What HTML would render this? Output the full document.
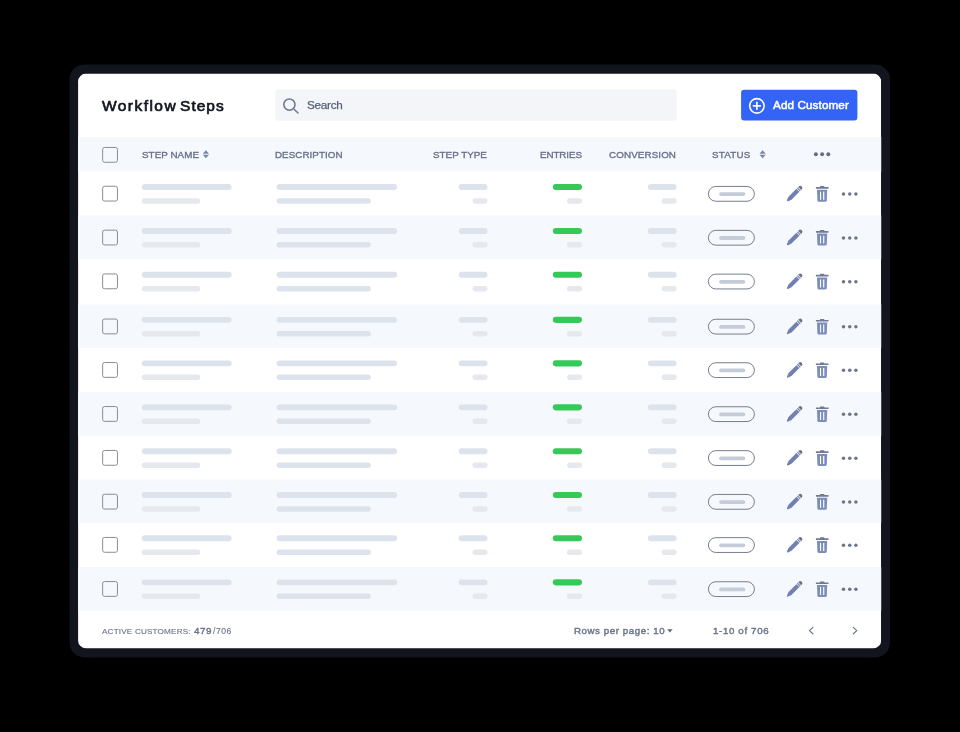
<!DOCTYPE html>
<html lang="en"><head><meta charset="utf-8"><title>Workflow Steps</title>
<style>
*{box-sizing:border-box;margin:0;padding:0}
html,body{width:960px;height:732px;background:#000;overflow:hidden}
body{position:relative;font-family:"Liberation Sans",Arial,sans-serif;color:#5f6b84}
.t{position:absolute;transform:scale(.25);transform-origin:0 0;white-space:nowrap;line-height:1}
svg.bg{position:absolute;left:0;top:0;width:960px;height:732px}
</style></head><body>
<svg class="bg" width="960" height="732" viewBox="0 0 960 732">
<defs><clipPath id="cc"><rect x="78.1" y="73.6" width="803.1" height="574.8" rx="8"/></clipPath></defs>
<rect x="69.5" y="64.40" width="820.5" height="593.1" rx="15" fill="#12151e"/>
<g clip-path="url(#cc)">
<rect x="78" y="73.50" width="803.2" height="575" fill="#fff"/>
<rect x="275.3" y="89.50" width="401.5" height="31.2" rx="3" fill="#f3f5f9"/>
<g transform="translate(282.3 97.5)" fill="none" stroke="#6e7990" stroke-width="1.55" stroke-linecap="round"><circle cx="7.1" cy="7.1" r="5.6"/><path d="M11.3 11.3L15.7 15.5"/></g>
<rect x="741.1" y="89.80" width="116.3" height="30.8" rx="3" fill="#3464f5"/>
<g transform="translate(756.9 105.85)" fill="none" stroke="#fff" stroke-width="1.6" stroke-linecap="round"><circle cx="0" cy="0" r="7.25"/><path d="M0 -3.5V3.5M-3.5 0H3.5"/></g>
<rect x="78" y="137.10" width="804" height="34.5" fill="#f5f8fc"/>
<rect x="102.65" y="147.45" width="14.8" height="14.8" rx="1.9" fill="none" stroke="#888c96" stroke-width="1"/>
<g transform="translate(202.8 150.35)" fill="#7886a6"><path d="M3.1 0L6.2 3.5H0Z"/><path d="M3.1 8L6.2 4.5H0Z"/></g>
<g transform="translate(759.5 150.35)" fill="#7886a6"><path d="M3.1 0L6.2 3.5H0Z"/><path d="M3.1 8L6.2 4.5H0Z"/></g>
<g transform="translate(813.9 152.2)" fill="#626c83"><circle cx="2" cy="2" r="1.95"/><circle cx="8.25" cy="2" r="1.95"/><circle cx="14.4" cy="2" r="1.95"/></g>
<rect x="102.65" y="186.25" width="14.8" height="14.8" rx="1.9" fill="none" stroke="#888c96" stroke-width="1"/>
<rect x="141.8" y="184.10" width="89.8" height="5.9" rx="2.95" fill="#dde3ec"/>
<rect x="141.8" y="198.20" width="58.5" height="5.5" rx="2.75" fill="#e5e8ed"/>
<rect x="276.6" y="184.10" width="120.6" height="5.9" rx="2.95" fill="#dde3ec"/>
<rect x="276.6" y="198.20" width="94.2" height="5.5" rx="2.75" fill="#dde3ec"/>
<rect x="458.7" y="184.10" width="28.8" height="5.9" rx="2.95" fill="#dde3ec"/>
<rect x="472.5" y="198.20" width="15" height="5.5" rx="2.75" fill="#e5e8ed"/>
<rect x="552.8" y="184.00" width="29.2" height="6.1" rx="3.05" fill="#36c95a"/>
<rect x="567" y="198.20" width="15" height="5.5" rx="2.75" fill="#e5e8ed"/>
<rect x="647.9" y="184.10" width="28.7" height="5.9" rx="2.95" fill="#dde3ec"/>
<rect x="661.6" y="198.20" width="15" height="5.5" rx="2.75" fill="#e5e8ed"/>
<rect x="708.4" y="186.45" width="46" height="14.8" rx="7.4" fill="none" stroke="#777e8f" stroke-width="1"/>
<rect x="719.1" y="192.20" width="26.2" height="3.8" rx="1.9" fill="#c4ccd9"/>
<g transform="translate(786.9 201.30) rotate(-45)"><path d="M0.3 0Q0.3 -0.55 0.9 -0.8L4.4 -2.1H15.5V2.1H4.4L0.9 0.8Q0.3 0.55 0.3 0Z" fill="#7081b1"/><rect x="16.2" y="-2.1" width="1.2" height="4.2" fill="#7081b1"/><path d="M18.1 -2.1H18.9A2.1 2.1 0 0 1 18.9 2.1H18.1Z" fill="#6a7286"/></g>
<g transform="translate(815.8 186.10)"><path d="M0.1 1H4.2V0.6Q4.2 0 4.8 0H8Q8.6 0 8.6 0.6V1H12.7V2.7H0.1Z" fill="#707a94"/><path d="M1.2 3.6H11.4L11 14.3Q10.9 15.6 9.6 15.6H3Q1.7 15.6 1.6 14.3ZM4.2 5.7V13.6H5.3V5.7ZM7.3 5.7V13.6H8.5V5.7Z" fill="#7c8dbb" fill-rule="evenodd"/></g>
<g transform="translate(841.5 192.00)" fill="#6c758b"><circle cx="2" cy="2" r="1.75"/><circle cx="8.25" cy="2" r="1.75"/><circle cx="14.4" cy="2" r="1.75"/></g>
<rect x="78" y="215.50" width="804" height="43.8" fill="#f5f8fc"/>
<rect x="102.65" y="230.15" width="14.8" height="14.8" rx="1.9" fill="none" stroke="#888c96" stroke-width="1"/>
<rect x="141.8" y="228.00" width="89.8" height="5.9" rx="2.95" fill="#dde3ec"/>
<rect x="141.8" y="242.10" width="58.5" height="5.5" rx="2.75" fill="#e5e8ed"/>
<rect x="276.6" y="228.00" width="120.6" height="5.9" rx="2.95" fill="#dde3ec"/>
<rect x="276.6" y="242.10" width="94.2" height="5.5" rx="2.75" fill="#dde3ec"/>
<rect x="458.7" y="228.00" width="28.8" height="5.9" rx="2.95" fill="#dde3ec"/>
<rect x="472.5" y="242.10" width="15" height="5.5" rx="2.75" fill="#e5e8ed"/>
<rect x="552.8" y="227.90" width="29.2" height="6.1" rx="3.05" fill="#36c95a"/>
<rect x="567" y="242.10" width="15" height="5.5" rx="2.75" fill="#e5e8ed"/>
<rect x="647.9" y="228.00" width="28.7" height="5.9" rx="2.95" fill="#dde3ec"/>
<rect x="661.6" y="242.10" width="15" height="5.5" rx="2.75" fill="#e5e8ed"/>
<rect x="708.4" y="230.35" width="46" height="14.8" rx="7.4" fill="none" stroke="#777e8f" stroke-width="1"/>
<rect x="719.1" y="236.10" width="26.2" height="3.8" rx="1.9" fill="#c4ccd9"/>
<g transform="translate(786.9 245.20) rotate(-45)"><path d="M0.3 0Q0.3 -0.55 0.9 -0.8L4.4 -2.1H15.5V2.1H4.4L0.9 0.8Q0.3 0.55 0.3 0Z" fill="#7081b1"/><rect x="16.2" y="-2.1" width="1.2" height="4.2" fill="#7081b1"/><path d="M18.1 -2.1H18.9A2.1 2.1 0 0 1 18.9 2.1H18.1Z" fill="#6a7286"/></g>
<g transform="translate(815.8 230.00)"><path d="M0.1 1H4.2V0.6Q4.2 0 4.8 0H8Q8.6 0 8.6 0.6V1H12.7V2.7H0.1Z" fill="#707a94"/><path d="M1.2 3.6H11.4L11 14.3Q10.9 15.6 9.6 15.6H3Q1.7 15.6 1.6 14.3ZM4.2 5.7V13.6H5.3V5.7ZM7.3 5.7V13.6H8.5V5.7Z" fill="#7c8dbb" fill-rule="evenodd"/></g>
<g transform="translate(841.5 235.90)" fill="#6c758b"><circle cx="2" cy="2" r="1.75"/><circle cx="8.25" cy="2" r="1.75"/><circle cx="14.4" cy="2" r="1.75"/></g>
<rect x="102.65" y="273.95" width="14.8" height="14.8" rx="1.9" fill="none" stroke="#888c96" stroke-width="1"/>
<rect x="141.8" y="271.80" width="89.8" height="5.9" rx="2.95" fill="#dde3ec"/>
<rect x="141.8" y="285.90" width="58.5" height="5.5" rx="2.75" fill="#e5e8ed"/>
<rect x="276.6" y="271.80" width="120.6" height="5.9" rx="2.95" fill="#dde3ec"/>
<rect x="276.6" y="285.90" width="94.2" height="5.5" rx="2.75" fill="#dde3ec"/>
<rect x="458.7" y="271.80" width="28.8" height="5.9" rx="2.95" fill="#dde3ec"/>
<rect x="472.5" y="285.90" width="15" height="5.5" rx="2.75" fill="#e5e8ed"/>
<rect x="552.8" y="271.70" width="29.2" height="6.1" rx="3.05" fill="#36c95a"/>
<rect x="567" y="285.90" width="15" height="5.5" rx="2.75" fill="#e5e8ed"/>
<rect x="647.9" y="271.80" width="28.7" height="5.9" rx="2.95" fill="#dde3ec"/>
<rect x="661.6" y="285.90" width="15" height="5.5" rx="2.75" fill="#e5e8ed"/>
<rect x="708.4" y="274.15" width="46" height="14.8" rx="7.4" fill="none" stroke="#777e8f" stroke-width="1"/>
<rect x="719.1" y="279.90" width="26.2" height="3.8" rx="1.9" fill="#c4ccd9"/>
<g transform="translate(786.9 289.00) rotate(-45)"><path d="M0.3 0Q0.3 -0.55 0.9 -0.8L4.4 -2.1H15.5V2.1H4.4L0.9 0.8Q0.3 0.55 0.3 0Z" fill="#7081b1"/><rect x="16.2" y="-2.1" width="1.2" height="4.2" fill="#7081b1"/><path d="M18.1 -2.1H18.9A2.1 2.1 0 0 1 18.9 2.1H18.1Z" fill="#6a7286"/></g>
<g transform="translate(815.8 273.80)"><path d="M0.1 1H4.2V0.6Q4.2 0 4.8 0H8Q8.6 0 8.6 0.6V1H12.7V2.7H0.1Z" fill="#707a94"/><path d="M1.2 3.6H11.4L11 14.3Q10.9 15.6 9.6 15.6H3Q1.7 15.6 1.6 14.3ZM4.2 5.7V13.6H5.3V5.7ZM7.3 5.7V13.6H8.5V5.7Z" fill="#7c8dbb" fill-rule="evenodd"/></g>
<g transform="translate(841.5 279.70)" fill="#6c758b"><circle cx="2" cy="2" r="1.75"/><circle cx="8.25" cy="2" r="1.75"/><circle cx="14.4" cy="2" r="1.75"/></g>
<rect x="78" y="304.40" width="804" height="43.5" fill="#f5f8fc"/>
<rect x="102.65" y="319.05" width="14.8" height="14.8" rx="1.9" fill="none" stroke="#888c96" stroke-width="1"/>
<rect x="141.8" y="316.90" width="89.8" height="5.9" rx="2.95" fill="#dde3ec"/>
<rect x="141.8" y="331.00" width="58.5" height="5.5" rx="2.75" fill="#e5e8ed"/>
<rect x="276.6" y="316.90" width="120.6" height="5.9" rx="2.95" fill="#dde3ec"/>
<rect x="276.6" y="331.00" width="94.2" height="5.5" rx="2.75" fill="#dde3ec"/>
<rect x="458.7" y="316.90" width="28.8" height="5.9" rx="2.95" fill="#dde3ec"/>
<rect x="472.5" y="331.00" width="15" height="5.5" rx="2.75" fill="#e5e8ed"/>
<rect x="552.8" y="316.80" width="29.2" height="6.1" rx="3.05" fill="#36c95a"/>
<rect x="567" y="331.00" width="15" height="5.5" rx="2.75" fill="#e5e8ed"/>
<rect x="647.9" y="316.90" width="28.7" height="5.9" rx="2.95" fill="#dde3ec"/>
<rect x="661.6" y="331.00" width="15" height="5.5" rx="2.75" fill="#e5e8ed"/>
<rect x="708.4" y="319.25" width="46" height="14.8" rx="7.4" fill="none" stroke="#777e8f" stroke-width="1"/>
<rect x="719.1" y="325.00" width="26.2" height="3.8" rx="1.9" fill="#c4ccd9"/>
<g transform="translate(786.9 334.10) rotate(-45)"><path d="M0.3 0Q0.3 -0.55 0.9 -0.8L4.4 -2.1H15.5V2.1H4.4L0.9 0.8Q0.3 0.55 0.3 0Z" fill="#7081b1"/><rect x="16.2" y="-2.1" width="1.2" height="4.2" fill="#7081b1"/><path d="M18.1 -2.1H18.9A2.1 2.1 0 0 1 18.9 2.1H18.1Z" fill="#6a7286"/></g>
<g transform="translate(815.8 318.90)"><path d="M0.1 1H4.2V0.6Q4.2 0 4.8 0H8Q8.6 0 8.6 0.6V1H12.7V2.7H0.1Z" fill="#707a94"/><path d="M1.2 3.6H11.4L11 14.3Q10.9 15.6 9.6 15.6H3Q1.7 15.6 1.6 14.3ZM4.2 5.7V13.6H5.3V5.7ZM7.3 5.7V13.6H8.5V5.7Z" fill="#7c8dbb" fill-rule="evenodd"/></g>
<g transform="translate(841.5 324.80)" fill="#6c758b"><circle cx="2" cy="2" r="1.75"/><circle cx="8.25" cy="2" r="1.75"/><circle cx="14.4" cy="2" r="1.75"/></g>
<rect x="102.65" y="362.55" width="14.8" height="14.8" rx="1.9" fill="none" stroke="#888c96" stroke-width="1"/>
<rect x="141.8" y="360.40" width="89.8" height="5.9" rx="2.95" fill="#dde3ec"/>
<rect x="141.8" y="374.50" width="58.5" height="5.5" rx="2.75" fill="#e5e8ed"/>
<rect x="276.6" y="360.40" width="120.6" height="5.9" rx="2.95" fill="#dde3ec"/>
<rect x="276.6" y="374.50" width="94.2" height="5.5" rx="2.75" fill="#dde3ec"/>
<rect x="458.7" y="360.40" width="28.8" height="5.9" rx="2.95" fill="#dde3ec"/>
<rect x="472.5" y="374.50" width="15" height="5.5" rx="2.75" fill="#e5e8ed"/>
<rect x="552.8" y="360.30" width="29.2" height="6.1" rx="3.05" fill="#36c95a"/>
<rect x="567" y="374.50" width="15" height="5.5" rx="2.75" fill="#e5e8ed"/>
<rect x="647.9" y="360.40" width="28.7" height="5.9" rx="2.95" fill="#dde3ec"/>
<rect x="661.6" y="374.50" width="15" height="5.5" rx="2.75" fill="#e5e8ed"/>
<rect x="708.4" y="362.75" width="46" height="14.8" rx="7.4" fill="none" stroke="#777e8f" stroke-width="1"/>
<rect x="719.1" y="368.50" width="26.2" height="3.8" rx="1.9" fill="#c4ccd9"/>
<g transform="translate(786.9 377.60) rotate(-45)"><path d="M0.3 0Q0.3 -0.55 0.9 -0.8L4.4 -2.1H15.5V2.1H4.4L0.9 0.8Q0.3 0.55 0.3 0Z" fill="#7081b1"/><rect x="16.2" y="-2.1" width="1.2" height="4.2" fill="#7081b1"/><path d="M18.1 -2.1H18.9A2.1 2.1 0 0 1 18.9 2.1H18.1Z" fill="#6a7286"/></g>
<g transform="translate(815.8 362.40)"><path d="M0.1 1H4.2V0.6Q4.2 0 4.8 0H8Q8.6 0 8.6 0.6V1H12.7V2.7H0.1Z" fill="#707a94"/><path d="M1.2 3.6H11.4L11 14.3Q10.9 15.6 9.6 15.6H3Q1.7 15.6 1.6 14.3ZM4.2 5.7V13.6H5.3V5.7ZM7.3 5.7V13.6H8.5V5.7Z" fill="#7c8dbb" fill-rule="evenodd"/></g>
<g transform="translate(841.5 368.30)" fill="#6c758b"><circle cx="2" cy="2" r="1.75"/><circle cx="8.25" cy="2" r="1.75"/><circle cx="14.4" cy="2" r="1.75"/></g>
<rect x="78" y="391.90" width="804" height="43.9" fill="#f5f8fc"/>
<rect x="102.65" y="406.55" width="14.8" height="14.8" rx="1.9" fill="none" stroke="#888c96" stroke-width="1"/>
<rect x="141.8" y="404.40" width="89.8" height="5.9" rx="2.95" fill="#dde3ec"/>
<rect x="141.8" y="418.50" width="58.5" height="5.5" rx="2.75" fill="#e5e8ed"/>
<rect x="276.6" y="404.40" width="120.6" height="5.9" rx="2.95" fill="#dde3ec"/>
<rect x="276.6" y="418.50" width="94.2" height="5.5" rx="2.75" fill="#dde3ec"/>
<rect x="458.7" y="404.40" width="28.8" height="5.9" rx="2.95" fill="#dde3ec"/>
<rect x="472.5" y="418.50" width="15" height="5.5" rx="2.75" fill="#e5e8ed"/>
<rect x="552.8" y="404.30" width="29.2" height="6.1" rx="3.05" fill="#36c95a"/>
<rect x="567" y="418.50" width="15" height="5.5" rx="2.75" fill="#e5e8ed"/>
<rect x="647.9" y="404.40" width="28.7" height="5.9" rx="2.95" fill="#dde3ec"/>
<rect x="661.6" y="418.50" width="15" height="5.5" rx="2.75" fill="#e5e8ed"/>
<rect x="708.4" y="406.75" width="46" height="14.8" rx="7.4" fill="none" stroke="#777e8f" stroke-width="1"/>
<rect x="719.1" y="412.50" width="26.2" height="3.8" rx="1.9" fill="#c4ccd9"/>
<g transform="translate(786.9 421.60) rotate(-45)"><path d="M0.3 0Q0.3 -0.55 0.9 -0.8L4.4 -2.1H15.5V2.1H4.4L0.9 0.8Q0.3 0.55 0.3 0Z" fill="#7081b1"/><rect x="16.2" y="-2.1" width="1.2" height="4.2" fill="#7081b1"/><path d="M18.1 -2.1H18.9A2.1 2.1 0 0 1 18.9 2.1H18.1Z" fill="#6a7286"/></g>
<g transform="translate(815.8 406.40)"><path d="M0.1 1H4.2V0.6Q4.2 0 4.8 0H8Q8.6 0 8.6 0.6V1H12.7V2.7H0.1Z" fill="#707a94"/><path d="M1.2 3.6H11.4L11 14.3Q10.9 15.6 9.6 15.6H3Q1.7 15.6 1.6 14.3ZM4.2 5.7V13.6H5.3V5.7ZM7.3 5.7V13.6H8.5V5.7Z" fill="#7c8dbb" fill-rule="evenodd"/></g>
<g transform="translate(841.5 412.30)" fill="#6c758b"><circle cx="2" cy="2" r="1.75"/><circle cx="8.25" cy="2" r="1.75"/><circle cx="14.4" cy="2" r="1.75"/></g>
<rect x="102.65" y="450.45" width="14.8" height="14.8" rx="1.9" fill="none" stroke="#888c96" stroke-width="1"/>
<rect x="141.8" y="448.30" width="89.8" height="5.9" rx="2.95" fill="#dde3ec"/>
<rect x="141.8" y="462.40" width="58.5" height="5.5" rx="2.75" fill="#e5e8ed"/>
<rect x="276.6" y="448.30" width="120.6" height="5.9" rx="2.95" fill="#dde3ec"/>
<rect x="276.6" y="462.40" width="94.2" height="5.5" rx="2.75" fill="#dde3ec"/>
<rect x="458.7" y="448.30" width="28.8" height="5.9" rx="2.95" fill="#dde3ec"/>
<rect x="472.5" y="462.40" width="15" height="5.5" rx="2.75" fill="#e5e8ed"/>
<rect x="552.8" y="448.20" width="29.2" height="6.1" rx="3.05" fill="#36c95a"/>
<rect x="567" y="462.40" width="15" height="5.5" rx="2.75" fill="#e5e8ed"/>
<rect x="647.9" y="448.30" width="28.7" height="5.9" rx="2.95" fill="#dde3ec"/>
<rect x="661.6" y="462.40" width="15" height="5.5" rx="2.75" fill="#e5e8ed"/>
<rect x="708.4" y="450.65" width="46" height="14.8" rx="7.4" fill="none" stroke="#777e8f" stroke-width="1"/>
<rect x="719.1" y="456.40" width="26.2" height="3.8" rx="1.9" fill="#c4ccd9"/>
<g transform="translate(786.9 465.50) rotate(-45)"><path d="M0.3 0Q0.3 -0.55 0.9 -0.8L4.4 -2.1H15.5V2.1H4.4L0.9 0.8Q0.3 0.55 0.3 0Z" fill="#7081b1"/><rect x="16.2" y="-2.1" width="1.2" height="4.2" fill="#7081b1"/><path d="M18.1 -2.1H18.9A2.1 2.1 0 0 1 18.9 2.1H18.1Z" fill="#6a7286"/></g>
<g transform="translate(815.8 450.30)"><path d="M0.1 1H4.2V0.6Q4.2 0 4.8 0H8Q8.6 0 8.6 0.6V1H12.7V2.7H0.1Z" fill="#707a94"/><path d="M1.2 3.6H11.4L11 14.3Q10.9 15.6 9.6 15.6H3Q1.7 15.6 1.6 14.3ZM4.2 5.7V13.6H5.3V5.7ZM7.3 5.7V13.6H8.5V5.7Z" fill="#7c8dbb" fill-rule="evenodd"/></g>
<g transform="translate(841.5 456.20)" fill="#6c758b"><circle cx="2" cy="2" r="1.75"/><circle cx="8.25" cy="2" r="1.75"/><circle cx="14.4" cy="2" r="1.75"/></g>
<rect x="78" y="479.60" width="804" height="43.2" fill="#f5f8fc"/>
<rect x="102.65" y="494.25" width="14.8" height="14.8" rx="1.9" fill="none" stroke="#888c96" stroke-width="1"/>
<rect x="141.8" y="492.10" width="89.8" height="5.9" rx="2.95" fill="#dde3ec"/>
<rect x="141.8" y="506.20" width="58.5" height="5.5" rx="2.75" fill="#e5e8ed"/>
<rect x="276.6" y="492.10" width="120.6" height="5.9" rx="2.95" fill="#dde3ec"/>
<rect x="276.6" y="506.20" width="94.2" height="5.5" rx="2.75" fill="#dde3ec"/>
<rect x="458.7" y="492.10" width="28.8" height="5.9" rx="2.95" fill="#dde3ec"/>
<rect x="472.5" y="506.20" width="15" height="5.5" rx="2.75" fill="#e5e8ed"/>
<rect x="552.8" y="492.00" width="29.2" height="6.1" rx="3.05" fill="#36c95a"/>
<rect x="567" y="506.20" width="15" height="5.5" rx="2.75" fill="#e5e8ed"/>
<rect x="647.9" y="492.10" width="28.7" height="5.9" rx="2.95" fill="#dde3ec"/>
<rect x="661.6" y="506.20" width="15" height="5.5" rx="2.75" fill="#e5e8ed"/>
<rect x="708.4" y="494.45" width="46" height="14.8" rx="7.4" fill="none" stroke="#777e8f" stroke-width="1"/>
<rect x="719.1" y="500.20" width="26.2" height="3.8" rx="1.9" fill="#c4ccd9"/>
<g transform="translate(786.9 509.30) rotate(-45)"><path d="M0.3 0Q0.3 -0.55 0.9 -0.8L4.4 -2.1H15.5V2.1H4.4L0.9 0.8Q0.3 0.55 0.3 0Z" fill="#7081b1"/><rect x="16.2" y="-2.1" width="1.2" height="4.2" fill="#7081b1"/><path d="M18.1 -2.1H18.9A2.1 2.1 0 0 1 18.9 2.1H18.1Z" fill="#6a7286"/></g>
<g transform="translate(815.8 494.10)"><path d="M0.1 1H4.2V0.6Q4.2 0 4.8 0H8Q8.6 0 8.6 0.6V1H12.7V2.7H0.1Z" fill="#707a94"/><path d="M1.2 3.6H11.4L11 14.3Q10.9 15.6 9.6 15.6H3Q1.7 15.6 1.6 14.3ZM4.2 5.7V13.6H5.3V5.7ZM7.3 5.7V13.6H8.5V5.7Z" fill="#7c8dbb" fill-rule="evenodd"/></g>
<g transform="translate(841.5 500.00)" fill="#6c758b"><circle cx="2" cy="2" r="1.75"/><circle cx="8.25" cy="2" r="1.75"/><circle cx="14.4" cy="2" r="1.75"/></g>
<rect x="102.65" y="537.45" width="14.8" height="14.8" rx="1.9" fill="none" stroke="#888c96" stroke-width="1"/>
<rect x="141.8" y="535.30" width="89.8" height="5.9" rx="2.95" fill="#dde3ec"/>
<rect x="141.8" y="549.40" width="58.5" height="5.5" rx="2.75" fill="#e5e8ed"/>
<rect x="276.6" y="535.30" width="120.6" height="5.9" rx="2.95" fill="#dde3ec"/>
<rect x="276.6" y="549.40" width="94.2" height="5.5" rx="2.75" fill="#dde3ec"/>
<rect x="458.7" y="535.30" width="28.8" height="5.9" rx="2.95" fill="#dde3ec"/>
<rect x="472.5" y="549.40" width="15" height="5.5" rx="2.75" fill="#e5e8ed"/>
<rect x="552.8" y="535.20" width="29.2" height="6.1" rx="3.05" fill="#36c95a"/>
<rect x="567" y="549.40" width="15" height="5.5" rx="2.75" fill="#e5e8ed"/>
<rect x="647.9" y="535.30" width="28.7" height="5.9" rx="2.95" fill="#dde3ec"/>
<rect x="661.6" y="549.40" width="15" height="5.5" rx="2.75" fill="#e5e8ed"/>
<rect x="708.4" y="537.65" width="46" height="14.8" rx="7.4" fill="none" stroke="#777e8f" stroke-width="1"/>
<rect x="719.1" y="543.40" width="26.2" height="3.8" rx="1.9" fill="#c4ccd9"/>
<g transform="translate(786.9 552.50) rotate(-45)"><path d="M0.3 0Q0.3 -0.55 0.9 -0.8L4.4 -2.1H15.5V2.1H4.4L0.9 0.8Q0.3 0.55 0.3 0Z" fill="#7081b1"/><rect x="16.2" y="-2.1" width="1.2" height="4.2" fill="#7081b1"/><path d="M18.1 -2.1H18.9A2.1 2.1 0 0 1 18.9 2.1H18.1Z" fill="#6a7286"/></g>
<g transform="translate(815.8 537.30)"><path d="M0.1 1H4.2V0.6Q4.2 0 4.8 0H8Q8.6 0 8.6 0.6V1H12.7V2.7H0.1Z" fill="#707a94"/><path d="M1.2 3.6H11.4L11 14.3Q10.9 15.6 9.6 15.6H3Q1.7 15.6 1.6 14.3ZM4.2 5.7V13.6H5.3V5.7ZM7.3 5.7V13.6H8.5V5.7Z" fill="#7c8dbb" fill-rule="evenodd"/></g>
<g transform="translate(841.5 543.20)" fill="#6c758b"><circle cx="2" cy="2" r="1.75"/><circle cx="8.25" cy="2" r="1.75"/><circle cx="14.4" cy="2" r="1.75"/></g>
<rect x="78" y="566.90" width="804" height="43.7" fill="#f5f8fc"/>
<rect x="102.65" y="581.55" width="14.8" height="14.8" rx="1.9" fill="none" stroke="#888c96" stroke-width="1"/>
<rect x="141.8" y="579.40" width="89.8" height="5.9" rx="2.95" fill="#dde3ec"/>
<rect x="141.8" y="593.50" width="58.5" height="5.5" rx="2.75" fill="#e5e8ed"/>
<rect x="276.6" y="579.40" width="120.6" height="5.9" rx="2.95" fill="#dde3ec"/>
<rect x="276.6" y="593.50" width="94.2" height="5.5" rx="2.75" fill="#dde3ec"/>
<rect x="458.7" y="579.40" width="28.8" height="5.9" rx="2.95" fill="#dde3ec"/>
<rect x="472.5" y="593.50" width="15" height="5.5" rx="2.75" fill="#e5e8ed"/>
<rect x="552.8" y="579.30" width="29.2" height="6.1" rx="3.05" fill="#36c95a"/>
<rect x="567" y="593.50" width="15" height="5.5" rx="2.75" fill="#e5e8ed"/>
<rect x="647.9" y="579.40" width="28.7" height="5.9" rx="2.95" fill="#dde3ec"/>
<rect x="661.6" y="593.50" width="15" height="5.5" rx="2.75" fill="#e5e8ed"/>
<rect x="708.4" y="581.75" width="46" height="14.8" rx="7.4" fill="none" stroke="#777e8f" stroke-width="1"/>
<rect x="719.1" y="587.50" width="26.2" height="3.8" rx="1.9" fill="#c4ccd9"/>
<g transform="translate(786.9 596.60) rotate(-45)"><path d="M0.3 0Q0.3 -0.55 0.9 -0.8L4.4 -2.1H15.5V2.1H4.4L0.9 0.8Q0.3 0.55 0.3 0Z" fill="#7081b1"/><rect x="16.2" y="-2.1" width="1.2" height="4.2" fill="#7081b1"/><path d="M18.1 -2.1H18.9A2.1 2.1 0 0 1 18.9 2.1H18.1Z" fill="#6a7286"/></g>
<g transform="translate(815.8 581.40)"><path d="M0.1 1H4.2V0.6Q4.2 0 4.8 0H8Q8.6 0 8.6 0.6V1H12.7V2.7H0.1Z" fill="#707a94"/><path d="M1.2 3.6H11.4L11 14.3Q10.9 15.6 9.6 15.6H3Q1.7 15.6 1.6 14.3ZM4.2 5.7V13.6H5.3V5.7ZM7.3 5.7V13.6H8.5V5.7Z" fill="#7c8dbb" fill-rule="evenodd"/></g>
<g transform="translate(841.5 587.30)" fill="#6c758b"><circle cx="2" cy="2" r="1.75"/><circle cx="8.25" cy="2" r="1.75"/><circle cx="14.4" cy="2" r="1.75"/></g>
<path d="M667.1 629.2H672.7L669.9 632.5Z" fill="#5f6b85"/>
<g fill="none" stroke="#6b7790" stroke-width="1.2" stroke-linecap="round" stroke-linejoin="round"><path d="M812.9 627.4L809.4 630.6L812.9 633.8"/><path d="M853.3 627.4L856.8 630.6L853.3 633.8"/></g>
</g>
</svg>
<div class="t" style="left:102.3px;top:98.48px;font-size:62px;color:#12151f;letter-spacing:4px;-webkit-text-stroke:2.8px #12151f"><span style="letter-spacing:5.8px;word-spacing:-11px">Workflow </span>Steps</div>
<div class="t" style="left:306.8px;top:99.10px;font-size:46.8px;color:#565f74;letter-spacing:-1px;-webkit-text-stroke:1px #565f74">Search</div>
<div class="t" style="left:773.0px;top:98.90px;font-size:46.8px;color:#fff;letter-spacing:0.4px;-webkit-text-stroke:2px #fff">Add Customer</div>
<div class="t" style="left:141.7px;top:149.55px;font-size:39.2px;color:#687289;letter-spacing:0.24px;-webkit-text-stroke:1.44px #687289">STEP NAME</div>
<div class="t" style="left:275.3px;top:149.55px;font-size:39.2px;color:#687289;letter-spacing:0.2px;-webkit-text-stroke:1.44px #687289">DESCRIPTION</div>
<div class="t" style="left:432.9px;top:149.55px;font-size:39.2px;color:#687289;letter-spacing:0.16px;-webkit-text-stroke:1.44px #687289">STEP TYPE</div>
<div class="t" style="left:539.7px;top:149.55px;font-size:39.2px;color:#687289;letter-spacing:-0.32px;-webkit-text-stroke:1.44px #687289">ENTRIES</div>
<div class="t" style="left:609.2px;top:149.55px;font-size:39.2px;color:#687289;letter-spacing:0.48px;-webkit-text-stroke:1.44px #687289">CONVERSION</div>
<div class="t" style="left:712.2px;top:149.55px;font-size:39.2px;color:#687289;letter-spacing:0.96px;-webkit-text-stroke:1.44px #687289">STATUS</div>
<div class="t" style="left:102.1px;top:627.24px;font-size:32.4px;color:#6d768c;letter-spacing:0.8px;-webkit-text-stroke:0.6px #6d768c">ACTIVE CUSTOMERS:</div>
<div class="t" style="left:193.9px;top:625.72px;font-size:39.6px;color:#687289;letter-spacing:2px;-webkit-text-stroke:1.52px #687289">479</div>
<div class="t" style="left:212.5px;top:626.82px;font-size:34.4px;color:#6d768c;letter-spacing:2.2px;-webkit-text-stroke:0.6px #6d768c">/706</div>
<div class="t" style="left:573.5px;top:625.89px;font-size:38.8px;color:#687289;letter-spacing:2.28px;-webkit-text-stroke:1.6px #687289">Rows per page: 10</div>
<div class="t" style="left:712.6px;top:625.89px;font-size:38.8px;color:#687289;letter-spacing:2.6px;-webkit-text-stroke:1.6px #687289">1-10 of 706</div>
</body></html>
